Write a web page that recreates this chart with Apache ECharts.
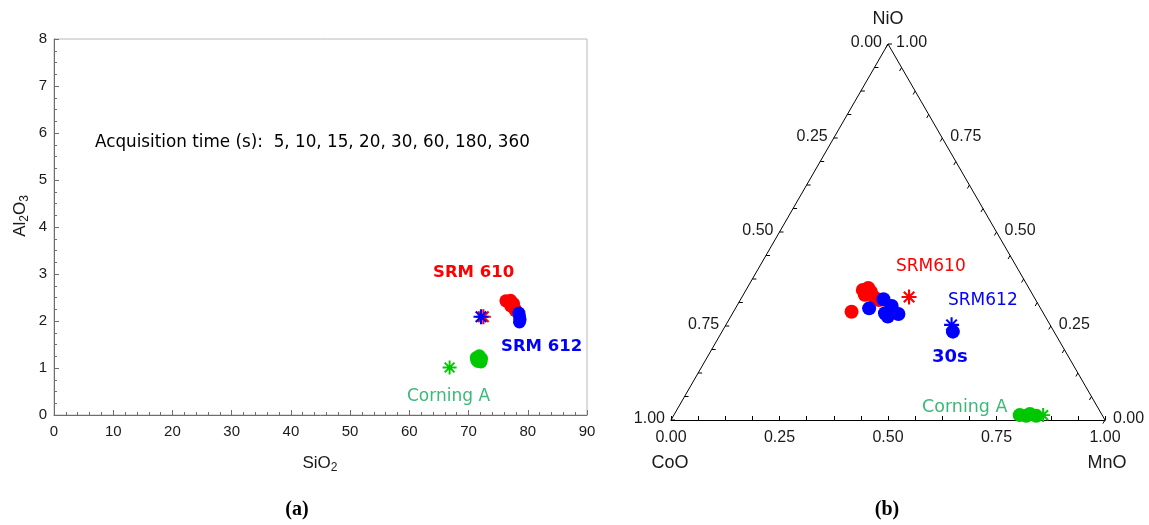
<!DOCTYPE html>
<html><head><meta charset="utf-8">
<script src="https://cdn.jsdelivr.net/npm/echarts@6/dist/echarts.min.js"></script>
<style>html,body{margin:0;padding:0;background:#fff}#c{width:1149px;height:525px}</style>
</head><body><div id="c"></div>
<script>
// ---------- Panel (a): [SiO2, Al2O3] ----------
const srm610A = [[76.3,2.43],[77.1,2.44],[77.6,2.37],[77.1,2.32],[77.8,2.27],[77.9,2.22]];
const srm612A = [[78.5,2.17],[78.6,2.10],[78.7,2.03],[78.6,1.98]];
const corningA = [[71.3,1.22],[71.8,1.26],[72.2,1.20],[71.6,1.14],[72.1,1.13],[71.4,1.16]];
const srm610RefA = [[72.5,2.09]];
const srm612RefA = [[72.1,2.09]];
const corningRefA = [[66.8,1.01]];
const xTicksA = [0,10,20,30,40,50,60,70,80,90];
const yTicksA = [0,1,2,3,4,5,6,7,8];

// ---------- Panel (b): [CoO, NiO, MnO] ----------
const srm610B = [[0.385,0.346,0.269],[0.370,0.351,0.279],[0.369,0.341,0.290],[0.387,0.333,0.280],[0.368,0.325,0.307],[0.361,0.319,0.320],[0.440,0.288,0.272]];
const srm612B = [[0.395,0.297,0.308],[0.350,0.321,0.329],[0.365,0.284,0.351],[0.340,0.303,0.357],[0.335,0.282,0.383],[0.363,0.275,0.362],[0.233,0.235,0.532]];
const corningB = [[0.190,0.013,0.797],[0.176,0.011,0.813],[0.165,0.016,0.819],[0.153,0.011,0.836]];
const srm610RefB = [[0.288,0.327,0.385]];
const srm612RefB = [[0.227,0.253,0.520]];
const corningRefB = [[0.136,0.013,0.851]];
const ternTicks = [0,0.25,0.5,0.75,1];

const H = Math.sqrt(3)/2;
function toXY(c){ const s=c[0]+c[1]+c[2]; const ni=c[1]/s, mn=c[2]/s; return [mn+ni/2, ni*H]; }

const STAR = 'path://M-1.4,-10L1.4,-10L1.4,10L-1.4,10Z M-10,-1.4L10,-1.4L10,1.4L-10,1.4Z M-6.01,-7.99L7.99,6.01L6.01,7.99L-7.99,-6.01Z M-7.99,6.01L6.01,-7.99L7.99,-6.01L-6.01,7.99Z';
const RED='#ff0000', BLUE='#0000ff', GREEN='#00c800', TXTGREEN='#3cb878';
const SANS='"Liberation Sans", Arial, sans-serif';
const COMIC='"DejaVu Sans", sans-serif';

function sc(name, data, color, symbol, size, gi){
  return {type:'scatter', name, data, xAxisIndex:gi, yAxisIndex:gi, symbol, symbolSize:size,
    itemStyle:{color, opacity:1}, silent:true, animation:false};
}

// ternary side ticks (major + 3 minor in between)
const tickVals = [];
for (let i=0;i<ternTicks.length;i++){
  tickVals.push([ternTicks[i],1]);
  if (i<ternTicks.length-1){ const st=(ternTicks[i+1]-ternTicks[i])/4; for(let k=1;k<4;k++) tickVals.push([ternTicks[i]+st*k,0]); }
}

function tt(text,x,y,font,fill,align,valign,extra){
  return Object.assign({type:'text', x, y, silent:true, style:{text, font, fill, align, verticalAlign:valign, textAlign:align, textVerticalAlign:valign}}, extra||{});
}

const chart = echarts.init(document.getElementById('c'), null, {renderer:'canvas'});
chart.setOption({
  animation:false,
  backgroundColor:'#fff',
  grid:[
    {left:54, top:39, width:533, height:376, show:true, borderColor:'#b8b8b8', borderWidth:1, backgroundColor:'transparent'},
    {left:671, top:44, width:434, height:376}
  ],
  xAxis:[
    {gridIndex:0, type:'value', min:0, max:90, interval:10,
     axisLine:{lineStyle:{color:'#6e6e6e'}}, axisTick:{inside:true, length:5, lineStyle:{color:'#6e6e6e'}},
     minorTick:{show:true, splitNumber:5, length:3, lineStyle:{color:'#6e6e6e'}},
     splitLine:{show:false}, axisLabel:{margin:9, fontSize:15, fontFamily:SANS, color:'#1a1a1a'}},
    {gridIndex:1, type:'value', min:0, max:1, interval:0.25,
     axisLine:{lineStyle:{color:'#000'}}, axisTick:{inside:true, length:4, lineStyle:{color:'#000'}},
     minorTick:{show:true, splitNumber:4, length:4, lineStyle:{color:'#000'}},
     splitLine:{show:false}, axisLabel:{margin:10, fontSize:16, fontFamily:SANS, color:'#1a1a1a', formatter:v=>v.toFixed(2), showMinLabel:true, showMaxLabel:true}}
  ],
  yAxis:[
    {gridIndex:0, type:'value', min:0, max:8, interval:1,
     axisLine:{show:true, lineStyle:{color:'#6e6e6e'}}, axisTick:{show:true, inside:true, length:5, lineStyle:{color:'#6e6e6e'}},
     minorTick:{show:true, splitNumber:4, length:3, lineStyle:{color:'#6e6e6e'}},
     splitLine:{show:false}, axisLabel:{margin:7, fontSize:15, fontFamily:SANS, color:'#1a1a1a'}},
    {gridIndex:1, type:'value', min:0, max:H, show:false}
  ],
  series:[
    sc('SRM 610', srm610A, RED, 'circle', 13, 0),
    sc('SRM 612', srm612A, BLUE, 'circle', 13, 0),
    sc('Corning A', corningA, GREEN, 'circle', 13, 0),
    sc('SRM 610 ref', srm610RefA, RED, STAR, 15, 0),
    sc('SRM 612 ref', srm612RefA, BLUE, STAR, 15, 0),
    sc('Corning A ref', corningRefA, GREEN, STAR, 14, 0),
    {type:'line', xAxisIndex:1, yAxisIndex:1, data:[[0,0],[0.5,H],[1,0]], symbol:'none', silent:true,
     lineStyle:{color:'#000', width:1}},
    {type:'custom', xAxisIndex:1, yAxisIndex:1, data:tickVals, silent:true,
     renderItem:function(params, api){
       const v = api.value(0), major = api.value(1);
       const pl = api.coord([(1-v)*0.5, (1-v)*H]);
       const pr = api.coord([1-v*0.5, v*H]);
       const ch = [
         {type:'line', shape:{x1:pl[0], y1:pl[1], x2:pl[0]+4, y2:pl[1]}, style:{stroke:'#000', lineWidth:1}},
         {type:'line', shape:{x1:pr[0], y1:pr[1], x2:pr[0]-2, y2:pr[1]+3.5}, style:{stroke:'#000', lineWidth:1}}
       ];
       if (major){
         ch.push(tt(v.toFixed(2), pl[0]-6, pl[1]-1, '16px '+SANS, '#1a1a1a', 'right', 'middle'));
         ch.push(tt(v.toFixed(2), pr[0]+8, pr[1]-1, '16px '+SANS, '#1a1a1a', 'left', 'middle'));
       }
       return {type:'group', children:ch};
     }},
    sc('SRM610', srm610B.map(toXY), RED, 'circle', 14, 1),
    sc('SRM612', srm612B.map(toXY), BLUE, 'circle', 14, 1),
    sc('Corning A b', corningB.map(toXY), GREEN, 'circle', 14, 1),
    sc('SRM610 ref', srm610RefB.map(toXY), RED, STAR, 15, 1),
    sc('SRM612 ref', srm612RefB.map(toXY), BLUE, STAR, 15, 1),
    sc('Corning ref', corningRefB.map(toXY), GREEN, STAR, 14, 1)
  ],
  graphic:[
    tt('SiO{s|2}', 320, 463, '17px '+SANS, '#1a1a1a', 'center', 'middle',
       {style:{text:'SiO{s|2}', font:'17px '+SANS, fill:'#1a1a1a', align:'center', verticalAlign:'middle', textAlign:'center', textVerticalAlign:'middle', lineHeight:22,
        rich:{s:{fontSize:12, fontFamily:'Liberation Sans', lineHeight:14, verticalAlign:'bottom', fill:'#1a1a1a'}}}}),
    tt('Al{s|2}O{s|3}', 20, 216, '17px '+SANS, '#1a1a1a', 'center', 'middle',
       {rotation:Math.PI/2, style:{text:'Al{s|2}O{s|3}', font:'17px '+SANS, fill:'#1a1a1a', align:'center', verticalAlign:'middle', textAlign:'center', textVerticalAlign:'middle', lineHeight:22,
        rich:{s:{fontSize:12, fontFamily:'Liberation Sans', lineHeight:14, verticalAlign:'bottom', fill:'#1a1a1a'}}}}),
    tt('Acquisition time (s):  5, 10, 15, 20, 30, 60, 180, 360', 95, 143, '16.8px '+COMIC, '#000', 'left', 'middle'),
    tt('SRM 610', 433, 273, 'bold 16.5px '+COMIC, RED, 'left', 'middle'),
    tt('SRM 612', 501, 347, 'bold 16.5px '+COMIC, BLUE, 'left', 'middle'),
    tt('Corning A', 407, 397, '17px '+COMIC, TXTGREEN, 'left', 'middle'),
    tt('NiO', 888, 19, '18px '+SANS, '#1a1a1a', 'center', 'middle'),
    tt('CoO', 670, 463, '18px '+SANS, '#1a1a1a', 'center', 'middle'),
    tt('MnO', 1107, 463, '18px '+SANS, '#1a1a1a', 'center', 'middle'),
    tt('SRM610', 896, 267, '17px '+COMIC, RED, 'left', 'middle'),
    tt('SRM612', 948, 301, '17px '+COMIC, BLUE, 'left', 'middle'),
    tt('30s', 932, 357, 'bold 18px '+COMIC, BLUE, 'left', 'middle'),
    tt('Corning A', 922, 407, '17.5px '+COMIC, TXTGREEN, 'left', 'middle'),
    tt('(a)', 297, 510, 'bold 20px "Liberation Serif", serif', '#000', 'center', 'middle'),
    tt('(b)', 887, 510, 'bold 20px "Liberation Serif", serif', '#000', 'center', 'middle')
  ]
});
</script></body></html>
